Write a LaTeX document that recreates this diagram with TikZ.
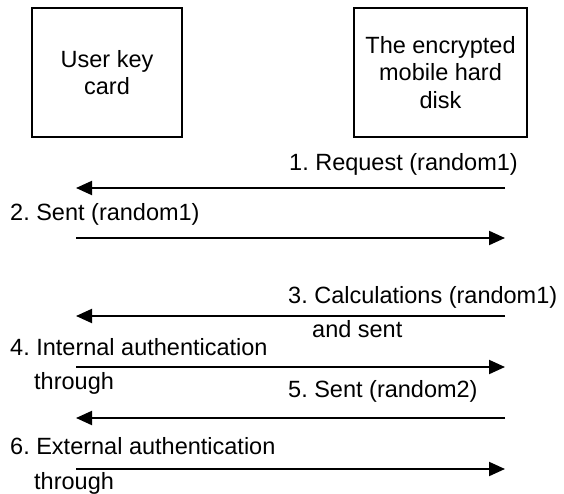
\documentclass[tikz,border=0pt]{standalone}
\usepackage{fontspec}
\setmainfont{Liberation Sans}
\usetikzlibrary{arrows.meta}
\begin{document}
\frenchspacing
\begin{tikzpicture}[x=1pt,y=-1pt,
  every node/.style={font=\fontsize{23.5}{27.3}\selectfont, inner sep=0pt},
  box/.style={draw, line width=1.7pt, minimum height=129pt, align=center},
  lbl/.style={anchor=base west},
  msg/.style={line width=2pt, -{Triangle[length=16pt,width=14pt]}}]
\useasboundingbox (0,0) rectangle (564,494);
\node[box, minimum width=150pt] (card) at (107,72.5) {User key\\card};
\node[box, minimum width=173pt] (disk) at (440.5,72.5) {The encrypted\\mobile hard\\disk};
% arrow endpoints
\coordinate (r1) at (505,188); \coordinate (l1) at (76,188);
\coordinate (l2) at (76,238); \coordinate (r2) at (505,238);
\coordinate (r3) at (505,316); \coordinate (l3) at (76,316);
\coordinate (l4) at (76,367); \coordinate (r4) at (505,367);
\coordinate (r5) at (505,418); \coordinate (l5) at (76,418);
\coordinate (l6) at (76,469); \coordinate (r6) at (505,469);
\draw[msg] (r1) -- (l1);
\draw[msg] (l2) -- (r2);
\draw[msg] (r3) -- (l3);
\draw[msg] (l4) -- (r4);
\draw[msg] (r5) -- (l5);
\draw[msg] (l6) -- (r6);
\node[lbl] (t1) at (289,171) {1. Request (random1)};
\node[lbl] (t2) at (10,220) {2. Sent (random1)};
\node[lbl] (t3) at (288,303) {3. Calculations (random1)};
\node[lbl] (t3b) at (312,337) {and sent};
\node[lbl] (t4) at (10,355) {4. Internal authentication};
\node[lbl] (t4b) at (34,389) {through};
\node[lbl] (t5) at (288,397) {5. Sent (random2)};
\node[lbl] (t6) at (10,454) {6. External authentication};
\node[lbl] (t6b) at (34,489) {through};
\end{tikzpicture}
\end{document}
